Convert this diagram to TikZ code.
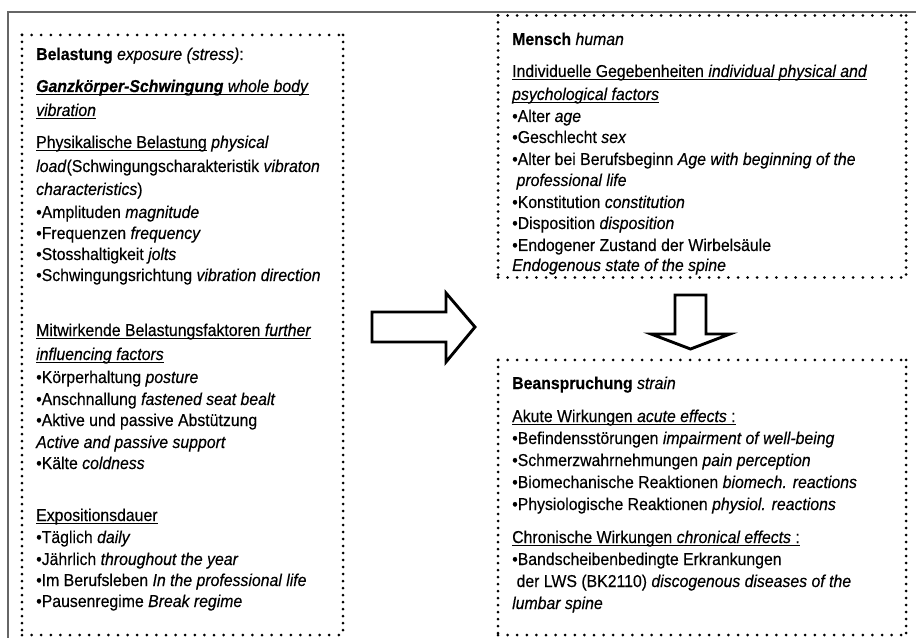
\documentclass[tikz,border=0pt]{standalone}
\usepackage{fontspec}
\setmainfont[FakeStretch=0.92,FakeBold=0.35,
  ItalicFeatures={FakeStretch=0.92,FakeBold=0.35},
  BoldFeatures={FakeStretch=0.92,FakeBold=0.35},
  BoldItalicFeatures={FakeStretch=0.92,FakeBold=0.35}]{Liberation Sans}
\newcommand\myul[1]{\setbox0\hbox{#1}\rlap{\rule[-2.6bp]{\wd0}{1bp}}\box0\relax}
\begin{document}
\begin{tikzpicture}[x=1bp,y=-1bp,
  t/.style={anchor=base west, inner sep=0pt, font=\fontsize{17.2bp}{20bp}\selectfont},
  box/.style={inner sep=0pt, outer sep=0pt},
  hdots/.style={line width=3bp, line cap=round, dash pattern=on 0pt off 9.6bp},
  vdots/.style={line width=3bp, line cap=round, dash pattern=on 0pt off 7bp},
  frameline/.style={draw=black!60, line width=1.4bp},
  bigarrow/.style={draw=black, line width=2.9bp, fill=white, line join=miter},
]
\useasboundingbox (0,0) rectangle (916,638);
% outer frame (clipped at right and bottom)
\coordinate (fa) at (8,12);
\coordinate (fb) at (916,12);
\coordinate (fc) at (8,638);
\draw[frameline] (fc) -- (fa) -- (fb);

% boxes
\node[box, minimum width=321bp, minimum height=600bp] (lbox) at (182.5,335) {};
\node[box, minimum width=408bp, minimum height=262bp] (rtop) at (702,146.5) {};
\node[box, minimum width=408bp, minimum height=275bp] (rbot) at (702,497.5) {};
\foreach \b in {lbox,rtop,rbot}{
  \draw[hdots] (\b.north west) -- (\b.north east);
  \draw[hdots] (\b.south west) -- (\b.south east);
  \draw[vdots] (\b.north west) -- (\b.south west);
  \draw[vdots] (\b.north east) -- (\b.south east);
}

% block arrows
\draw[bigarrow] (372,312) -- (446,312) -- (446,293) -- (475,327) -- (446,362) -- (446,342) -- (372,342) -- cycle;
\draw[bigarrow] (675,295) -- (706,295) -- (706,334) -- (730,334) -- (690.5,349) -- (651,334) -- (675,334) -- cycle;

% left box text
\node[t] (a1) at (36,60) {\textbf{Belastung} \textit{exposure (stress)}:};
\node[t] (a2) at (36,92) {\myul{\textbf{\textit{Ganzkörper-Schwingung}} \textit{whole body}}};
\node[t] (a3) at (36,116) {\myul{\textit{vibration}}};
\node[t] (a4) at (36,148) {\myul{Physikalische Belastung} \textit{physical}};
\node[t] (a5) at (36,172) {\textit{load}(Schwingungscharakteristik \textit{vibraton}};
\node[t] (a6) at (36,195) {\textit{characteristics})};
\node[t] (a7) at (36,218) {•Amplituden \textit{magnitude}};
\node[t] (a8) at (36,239) {•Frequenzen \textit{frequency}};
\node[t] (a9) at (36,260) {•Stosshaltigkeit \textit{jolts}};
\node[t] (a10) at (36,281) {•Schwingungsrichtung \textit{vibration direction}};
\node[t] (a11) at (36,336) {\myul{Mitwirkende Belastungsfaktoren \textit{further}}};
\node[t] (a12) at (36,360) {\myul{\textit{influencing factors}}};
\node[t] (a13) at (36,383) {•Körperhaltung \textit{posture}};
\node[t] (a14) at (36,405) {•Anschnallung \textit{fastened seat bealt}};
\node[t] (a15) at (36,426) {•Aktive und passive Abstützung};
\node[t] (a16) at (36,448) {\textit{Active and passive support}};
\node[t] (a17) at (36,469) {•Kälte \textit{coldness}};
\node[t] (a18) at (36,521) {\myul{Expositionsdauer}};
\node[t] (a19) at (36,543) {•Täglich \textit{daily}};
\node[t] (a20) at (36,565) {•Jährlich \textit{throughout the year}};
\node[t] (a21) at (36,586) {•Im Berufsleben \textit{In the professional life}};
\node[t] (a22) at (36,607) {•Pausenregime \textit{Break regime}};

% right top box text
\node[t] (b1) at (512,45) {\textbf{Mensch} \textit{human}};
\node[t] (b2) at (512,77) {\myul{Individuelle Gegebenheiten \textit{individual physical and}}};
\node[t] (b3) at (512,100) {\myul{\textit{psychological factors}}};
\node[t] (b4) at (512,122) {•Alter \textit{age}};
\node[t] (b5) at (512,143) {•Geschlecht \textit{sex}};
\node[t] (b6) at (512,165) {•Alter bei Berufsbeginn \textit{Age with beginning of the}};
\node[t] (b7) at (512,186) {\ \textit{professional life}};
\node[t] (b8) at (512,208) {•Konstitution \textit{constitution}};
\node[t] (b9) at (512,229) {•Disposition \textit{disposition}};
\node[t] (b10) at (512,251) {•Endogener Zustand der Wirbelsäule};
\node[t] (b11) at (512,271) {\textit{Endogenous state of the spine}};

% right bottom box text
\node[t] (c1) at (512,389) {\textbf{Beanspruchung} \textit{strain}};
\node[t] (c2) at (512,422) {\myul{Akute Wirkungen \textit{acute effects} :}};
\node[t] (c3) at (512,444) {•Befindensstörungen \textit{impairment of well-being}};
\node[t] (c4) at (512,466) {•Schmerzwahrnehmungen \textit{pain perception}};
\node[t] (c5) at (512,488) {•Biomechanische Reaktionen \textit{biomech. reactions}};
\node[t] (c6) at (512,510) {•Physiologische Reaktionen \textit{physiol. reactions}};
\node[t] (c7) at (512,543) {\myul{Chronische Wirkungen \textit{chronical effects} :}};
\node[t] (c8) at (512,565) {•Bandscheibenbedingte Erkrankungen};
\node[t] (c9) at (512,587) {\ der LWS (BK2110) \textit{discogenous diseases of the}};
\node[t] (c10) at (512,609) {\textit{lumbar spine}};
\end{tikzpicture}
\end{document}
